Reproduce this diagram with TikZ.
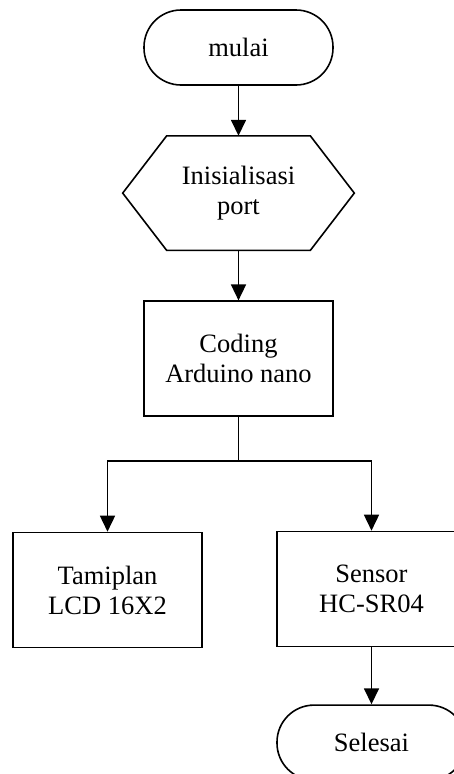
\documentclass[tikz,border=0pt]{standalone}
\usepackage{fontspec}
\setmainfont{Liberation Serif}
\usetikzlibrary{arrows.meta, positioning}

\begin{document}
\begin{tikzpicture}[x=1pt, y=1pt, node distance=50pt, >={Triangle[length=16pt,width=15pt]}, line width=1.6pt,
  terminal/.style={rectangle, rounded corners=37pt, draw, minimum width=189pt, minimum height=75pt, align=center, font=\fontsize{26.5}{30}\selectfont},
  process/.style={rectangle, draw, minimum width=189pt, minimum height=115pt, align=center, font=\fontsize{26.5}{30}\selectfont},
  prep/.style={rectangle, minimum width=142pt, minimum height=113pt, align=center, font=\fontsize{26.5}{30}\selectfont}]
  \useasboundingbox (0,0) rectangle (454,-774);
  \clip (0,0) rectangle (454,-774);
  \node[terminal] (start) at (238.5,-47.5) {mulai};
  \node[prep, below=of start] (init) {Inisialisasi\\port};
  \draw (init.north west) -- (init.north east) -- ([xshift=44pt]init.east) -- (init.south east)
    -- (init.south west) -- ([xshift=-44pt]init.west) -- cycle;
  \node[process, below=of init] (coding) {Coding\\Arduino nano};
  \node[process] (lcd) at (107.5,-590) {Tamiplan\\LCD 16X2};
  \node[process] (sensor) at (371.5,-589) {Sensor\\HC-SR04};
  \node[terminal, below=57pt of sensor] (stop) {Selesai};
  \coordinate (split) at ([yshift=-44pt]coding.south);
  \draw[->] (start) -- (init);
  \draw[->] (init) -- (coding);
  \draw (coding) -- (split);
  \draw[->] (split) -| (lcd);
  \draw[->] (split) -| (sensor);
  \draw[->] (sensor) -- (stop);
\end{tikzpicture}
\end{document}
